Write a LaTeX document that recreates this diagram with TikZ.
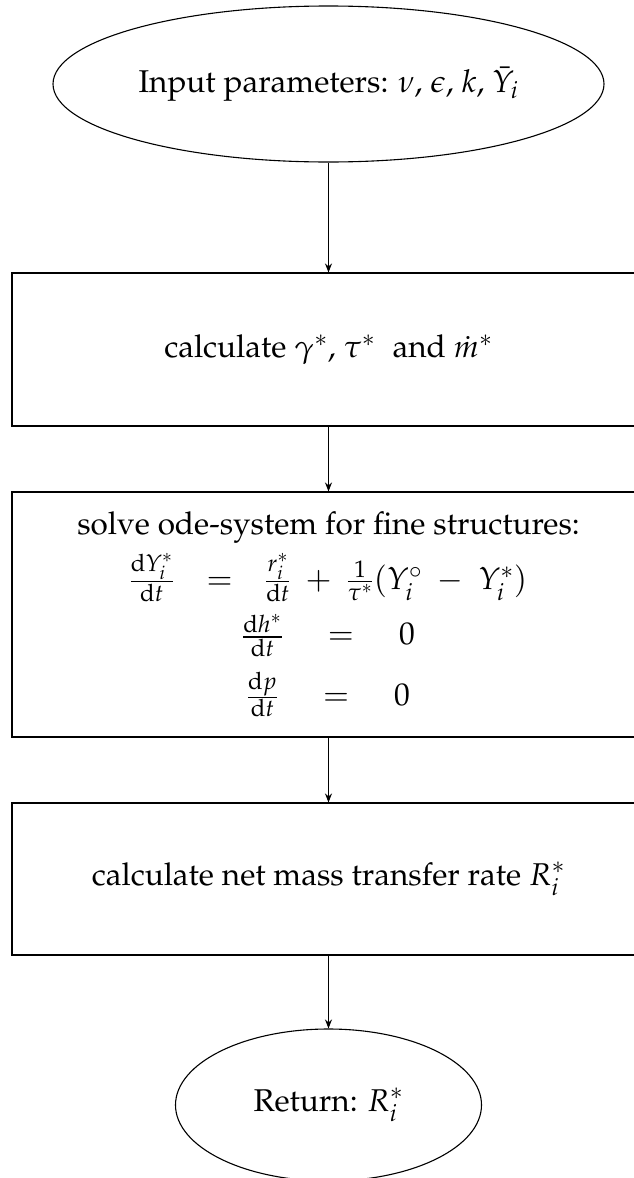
\documentclass[tikz,border=0pt]{standalone}
\usepackage[T1]{fontenc}
\usepackage{mathpazo}
\usetikzlibrary{shapes.geometric,arrows.meta}
\begin{document}
\begin{tikzpicture}[x=1pt,y=-1pt,line width=1.1pt,
  txt/.style={font=\fontsize{31.5}{40}\selectfont},
  termbox/.style={draw,ellipse,inner sep=0pt,txt},
  procbox/.style={draw,rectangle,inner sep=0pt,txt,align=center,minimum width=633pt},
  conn/.style={-{Stealth[length=9pt,width=7pt]}}]
\useasboundingbox (0,0) rectangle (633,1178);
\node[termbox,minimum width=551pt,minimum height=156pt] (start) at (328.5,84)
  {Input parameters: $\nu$, $\epsilon$, $k$, $\bar{Y}_i$};
\node[procbox,minimum height=153pt] (calc) at (328.5,349.5)
  {calculate $\gamma^*$, $\tau^*$\hspace{0.3em} and $\dot{m}^*$};
\node[procbox,minimum height=245pt] (ode) at (328.5,614.5)
  {solve ode-system for fine structures:\\[9pt]
   $\frac{\mathrm{d}Y_i^*}{\mathrm{d}t}\hspace{0.75em}=\hspace{0.75em}\frac{r_i^*}{\mathrm{d}t}\;+\;\frac{1}{\tau^*}(Y_i^\circ\;-\;Y_i^*)$\\[12pt]
   $\frac{\mathrm{d}h^*}{\mathrm{d}t}\hspace{1.15em}=\hspace{1.15em}0$\\[14pt]
   $\frac{\mathrm{d}p}{\mathrm{d}t}\hspace{1.15em}=\hspace{1.15em}0$};
\node[procbox,minimum height=152pt] (rate) at (328.5,879)
  {calculate net mass transfer rate $R_i^*$};
\node[termbox,minimum width=306pt,minimum height=152pt] (ret) at (328.5,1105)
  {Return: $R_i^*$};
\draw[conn] (start) -- (calc);
\draw[conn] (calc) -- (ode);
\draw[conn] (ode) -- (rate);
\draw[conn] (rate) -- (ret);
\end{tikzpicture}
\end{document}
